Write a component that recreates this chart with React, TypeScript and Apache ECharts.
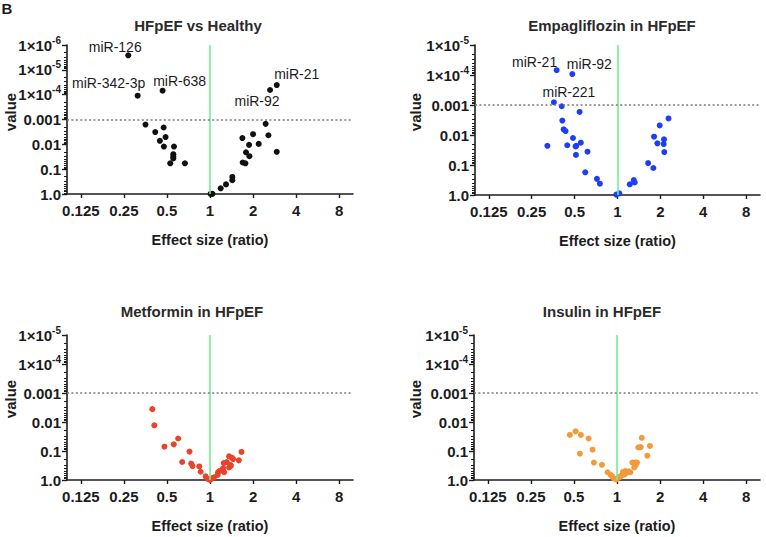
import React, { useEffect, useRef } from 'react';
import * as echarts from 'echarts';

// ---------- data ----------
const panelTitles = ['HFpEF vs Healthy', 'Empagliflozin in HFpEF', 'Metformin in HFpEF', 'Insulin in HFpEF'];
const xAxisName = 'Effect size (ratio)';
const yAxisName = 'value';
const yMinValues = [1e-6, 1e-5, 1e-5, 1e-5];
const xRange = [0.1, 10];
const xTickRatios = [0.125, 0.25, 0.5, 1, 2, 4, 8];
const thresholdP = 0.001;
const refRatio = 1;
const yMinorMultipliers = [2, 3, 4, 5, 6, 7, 8, 9];

// [ratio, p-value]
const healthyPoints: [number, number][] = [
  [0.268, 2.6e-6], [0.312, 1.1e-4], [0.466, 6.9e-5], [2.93, 4.1e-5], [2.63, 6.5e-5],
  [0.354, 1.6e-3], [0.414, 3.2e-3], [0.474, 2.1e-3], [0.489, 5.1e-3], [0.446, 7.2e-3],
  [0.476, 0.0123], [0.56, 0.0123], [0.554, 0.025], [0.554, 0.031], [0.554, 0.037],
  [0.527, 0.058], [0.668, 0.058], [1.01, 0.99], [1.04, 0.99], [1.188, 0.59],
  [1.294, 0.41], [1.433, 0.206], [1.433, 0.28], [1.693, 0.054], [1.768, 0.058],
  [1.684, 5.6e-3], [1.786, 0.021], [1.875, 0.0105], [1.886, 0.03], [2.0, 3.9e-3],
  [2.19, 9.6e-3], [2.45, 1.5e-3], [2.56, 4.3e-3], [2.93, 0.02],
];
const empaPoints: [number, number][] = [
  [0.374, 6.9e-5], [0.482, 9.3e-5], [0.358, 8.1e-4], [0.406, 1.1e-3], [0.542, 1.7e-3],
  [0.41, 3.3e-3], [0.419, 6.5e-3], [0.432, 7.4e-3], [0.487, 0.0126], [0.322, 0.0229],
  [0.444, 0.022], [0.514, 0.023], [0.508, 0.024], [0.553, 0.018], [0.511, 0.046],
  [0.616, 0.036], [0.594, 0.175], [0.717, 0.29], [0.752, 0.42], [0.98, 0.97],
  [1.03, 0.88], [1.22, 0.44], [1.3, 0.32], [1.32, 0.38], [1.64, 0.086],
  [1.786, 0.126], [1.806, 0.0114], [1.905, 0.019], [1.978, 4.8e-3], [2.12, 0.014],
  [2.11, 0.02], [2.13, 0.037], [2.28, 2.8e-3],
];
const metforminPoints: [number, number][] = [
  [0.395, 3.6e-3], [0.408, 0.013], [0.48, 0.071], [0.558, 0.059], [0.599, 0.037],
  [0.639, 0.24], [0.719, 0.105], [0.739, 0.27], [0.755, 0.33], [0.841, 0.34],
  [0.86, 0.52], [0.932, 0.75], [0.967, 0.92], [1.0, 1.0], [1.03, 0.88],
  [1.067, 0.81], [1.132, 0.67], [1.139, 0.54], [1.163, 0.49], [1.215, 0.46],
  [1.235, 0.4], [1.255, 0.54], [1.248, 0.26], [1.31, 0.24], [1.36, 0.37],
  [1.383, 0.3], [1.4, 0.32], [1.36, 0.153], [1.42, 0.17], [1.45, 0.19],
  [1.59, 0.21], [1.66, 0.108],
];
const insulinPoints: [number, number][] = [
  [0.468, 0.028], [0.513, 0.021], [0.559, 0.028], [0.55, 0.124], [0.633, 0.037],
  [0.675, 0.09], [0.69, 0.25], [0.785, 0.3], [0.86, 0.54], [0.903, 0.67],
  [0.927, 0.77], [0.95, 0.88], [0.99, 0.95], [1.02, 0.83], [1.055, 0.77],
  [1.078, 0.69], [1.1, 0.52], [1.125, 0.65], [1.144, 0.49], [1.175, 0.56],
  [1.21, 0.5], [1.24, 0.54], [1.28, 0.25], [1.34, 0.25], [1.32, 0.37],
  [1.35, 0.31], [1.38, 0.25], [1.41, 0.075], [1.466, 0.073], [1.49, 0.035],
  [1.63, 0.145], [1.7, 0.067],
];
const panelPoints = [healthyPoints, empaPoints, metforminPoints, insulinPoints];

// point labels: index into panel's points
const healthyLabels = [
  { index: 0, text: 'miR-126' },
  { index: 1, text: 'miR-342-3p' },
  { index: 2, text: 'miR-638' },
  { index: 3, text: 'miR-21' },
  { index: 4, text: 'miR-92' },
];
const empaLabels = [
  { index: 0, text: 'miR-21' },
  { index: 1, text: 'miR-92' },
  { index: 2, text: 'miR-221' },
];
const panelLabels = [healthyLabels, empaLabels, [], []];

// ---------- layout / style ----------
const FONT = '"Liberation Sans", Arial, Helvetica, sans-serif';
const INK = '#1c1c1c';
const colors = ['#111111', '#1f3ef2', '#e8432b', '#f39a3a'];
const labelOffsets: Record<string, [number, number]>[] = [
  { 'miR-126': [-13, -8], 'miR-342-3p': [-29, -13], 'miR-638': [17, -10], 'miR-21': [20, -11], 'miR-92': [-13, 11] },
  { 'miR-21': [-22, -8], 'miR-92': [17, -10], 'miR-221': [15, -10] },
  {},
  {},
];
const grids = [
  { left: 67, top: 45, width: 286, height: 149 },
  { left: 475, top: 45, width: 285, height: 150 },
  { left: 67, top: 335, width: 286, height: 145 },
  { left: 474, top: 335, width: 286, height: 145 },
];
const titlePos = [[198, 25], [612, 25], [192, 311], [602, 311]];
const yNamePos = [[10, 112], [415, 112], [10, 399], [415, 399]];

// scale transforms: ratio -> log2 (x), p-value -> -log10 (y)
const toX = (r: number) => Math.log2(r);
const toY = (p: number) => -Math.log10(p);

const yLabel = (v: number) => {
  const e = Math.round(v);
  if (e === 0) return '1.0';
  if (e <= 3) return Math.pow(10, -e).toFixed(e);
  return `{a|1×10}{b|-${e}}`;
};
const xLabel = (v: number) => {
  const k = Math.round(v);
  if (Math.abs(v - k) > 1e-6) return '';
  return String(Math.pow(2, k));
};

export default function App() {
  const ref = useRef<HTMLDivElement>(null);
  useEffect(() => {
    if (!ref.current) return;
    const chart = echarts.init(ref.current, undefined, { renderer: 'svg' });
    const xTicks = xTickRatios.map(toX);
    const xAxis = grids.map((_, i) => ({
      type: 'value',
      gridIndex: i,
      min: toX(xRange[0]),
      max: toX(xRange[1]),
      name: xAxisName,
      nameLocation: 'middle',
      nameGap: 38,
      nameTextStyle: { fontFamily: FONT, fontSize: 14.5, fontWeight: 'bold', color: INK },
      axisLine: { show: true, onZero: false, lineStyle: { color: INK, width: 1.6 } },
      axisTick: { show: true, length: 4, customValues: xTicks, lineStyle: { color: INK, width: 1.4 } },
      axisLabel: {
        formatter: xLabel, customValues: xTicks, margin: 9,
        fontFamily: FONT, fontSize: 15, fontWeight: 'bold', color: INK,
      },
      splitLine: { show: false },
    }));
    const yAxisMain = grids.map((_, i) => {
      const top = toY(yMinValues[i]);
      const majors: number[] = [];
      for (let d = 0; d <= top; d++) majors.push(d);
      return {
        type: 'value',
        gridIndex: i,
        min: 0,
        max: top,
        interval: 1,
        axisLine: { show: true, onZero: false, lineStyle: { color: INK, width: 1.6 } },
        axisTick: { show: true, length: 5, customValues: majors, lineStyle: { color: INK, width: 1.4 } },
        axisLabel: {
          formatter: yLabel, customValues: majors, margin: 6,
          fontFamily: FONT, fontSize: 15, fontWeight: 'bold', color: INK,
          rich: {
            a: { fontFamily: FONT, fontSize: 15, fontWeight: 'bold', color: INK, lineHeight: 20 },
            b: { fontFamily: FONT, fontSize: 10, fontWeight: 'bold', color: INK, lineHeight: 8, verticalAlign: 'top' },
          },
        },
        splitLine: { show: false },
      };
    });
    // secondary axes carrying only the logarithmic minor ticks
    const yAxisMinor = grids.map((_, i) => {
      const top = toY(yMinValues[i]);
      const vals: number[] = [];
      for (let d = 1; d <= top; d++) {
        yMinorMultipliers.forEach((m) => vals.push(toY(m * Math.pow(10, -d))));
      }
      return {
        type: 'value',
        gridIndex: i,
        position: 'left',
        min: 0,
        max: top,
        interval: 1,
        axisLine: { show: false, onZero: false },
        axisLabel: { show: false },
        axisTick: { show: true, length: 3, customValues: vals, lineStyle: { color: INK, width: 1 } },
        splitLine: { show: false },
      };
    });
    const series = panelPoints.map((pts, i) => {
      const labels = panelLabels[i] as { index: number; text: string }[];
      const data = pts.map(([r, p], j) => {
        const pt = [toX(r), toY(p)];
        const lab = labels.find((l) => l.index === j);
        if (!lab) return pt;
        return {
          value: pt,
          label: {
            show: true,
            position: 'inside',
            offset: labelOffsets[i][lab.text] || [0, 0],
            formatter: lab.text,
            fontFamily: FONT,
            fontSize: 14,
            color: INK,
          },
        };
      });
      return {
        type: 'scatter',
        xAxisIndex: i,
        yAxisIndex: i,
        symbolSize: 6,
        itemStyle: { color: colors[i], opacity: 1 },
        data,
        markLine: {
          silent: true,
          symbol: 'none',
          label: { show: false },
          data: [
            { xAxis: toX(refRatio), lineStyle: { color: '#72ee93', width: 1.6, type: 'solid' } },
            { yAxis: toY(thresholdP), lineStyle: { color: '#7a7a7a', width: 1.6, type: [2, 2.4] } },
          ],
        },
        z: 3,
      };
    });
    const graphic: any[] = [];
    panelTitles.forEach((t, i) => {
      graphic.push({
        type: 'text', x: titlePos[i][0], y: titlePos[i][1],
        style: {
          text: t, fontFamily: FONT, fontSize: 15, fontWeight: 'bold', fill: '#2a2a2a',
          textAlign: 'center', textVerticalAlign: 'middle', align: 'center', verticalAlign: 'middle',
        },
      });
      graphic.push({
        type: 'text', x: yNamePos[i][0], y: yNamePos[i][1], rotation: Math.PI / 2,
        style: {
          text: yAxisName, fontFamily: FONT, fontSize: 15, fontWeight: 'bold', fill: INK,
          textAlign: 'center', textVerticalAlign: 'middle', align: 'center', verticalAlign: 'middle',
        },
      });
    });
    graphic.push({
      type: 'text', x: 7, y: 8,
      style: {
        text: 'B', fontFamily: FONT, fontSize: 15, fontWeight: 'bold', fill: INK,
        textAlign: 'center', textVerticalAlign: 'middle', align: 'center', verticalAlign: 'middle',
      },
    });
    chart.setOption({
      animation: false,
      backgroundColor: '#ffffff',
      grid: grids.map((g) => ({ ...g, containLabel: false })),
      xAxis,
      yAxis: [...yAxisMain, ...yAxisMinor],
      series,
      graphic,
    } as any);
    return () => chart.dispose();
  }, []);
  return (
    <div
      ref={ref}
      style={{ position: 'absolute', left: 0, top: 0, width: 766, height: 537, background: '#fff' }}
    />
  );
}
